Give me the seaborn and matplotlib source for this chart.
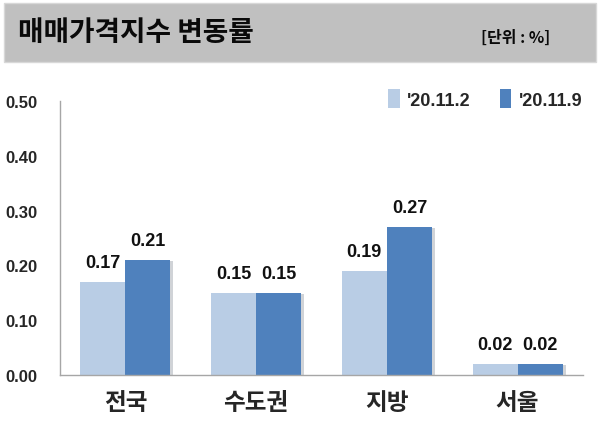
import matplotlib
matplotlib.use("Agg")
import matplotlib.pyplot as plt
import matplotlib.patheffects as pe
from matplotlib.patches import Rectangle
import seaborn as sns
import pandas as pd

categories = ["전국", "수도권", "지방", "서울"]
series_names = ["'20.11.2", "'20.11.9"]
values_1102 = [0.17, 0.15, 0.19, 0.02]
values_1109 = [0.21, 0.15, 0.27, 0.02]
y_ticks = [0.0, 0.1, 0.2, 0.3, 0.4, 0.5]
title = "매매가격지수 변동률"
unit = "[단위 : %]"

colors = ["#b9cde5", "#4f81bd"]

df = pd.DataFrame({
    "region": categories * 2,
    "series": [series_names[0]] * 4 + [series_names[1]] * 4,
    "value": values_1102 + values_1109,
})

sns.set_style("white")
plt.rcParams["font.family"] = ["Noto Sans CJK KR", "DejaVu Sans"]

fig = plt.figure(figsize=(6.01, 4.35), dpi=100)
ax = fig.add_axes([60 / 601, 1 - 376 / 435, 523 / 601, 274 / 435])

sns.barplot(data=df, x="region", y="value", hue="series", palette=colors,
            width=0.69, gap=0, ax=ax, saturation=1, legend=True)

for p in ax.patches:
    p.set_edgecolor("none")
    p.set_path_effects([pe.SimplePatchShadow(offset=(2, -1), alpha=0.2), pe.Normal()])

num_font = dict(family=["Liberation Sans", "DejaVu Sans"], weight="bold")

for cont in ax.containers:
    for rect in cont:
        h = rect.get_height()
        ax.annotate(f"{h:.2f}", (rect.get_x() + rect.get_width() / 2, h),
                    xytext=(0, 8), textcoords="offset points",
                    ha="center", va="bottom", fontsize=13, color="#111111", **num_font)

ax.set_ylim(0, 0.5)
ax.set_xlim(-0.5, 3.5)
ax.set_yticks(y_ticks)
ax.set_yticklabels([f"{v:.2f}" for v in y_ticks], fontsize=12, **num_font)
ax.set_xticks(range(len(categories)))
ax.set_xticklabels(categories, fontsize=17, fontweight="heavy", family=["Noto Sans CJK KR"])
ax.set_xticks([-0.5, 0.5, 1.5, 2.5, 3.5], minor=True)
ax.tick_params(axis="x", which="major", length=0, pad=11)
ax.tick_params(axis="x", which="minor", length=8, color="#a6a6a6", direction="out", width=1)
ax.tick_params(axis="y", length=6, color="#a6a6a6", direction="out", pad=10.5, width=1)
ax.set_xlabel("")
ax.set_ylabel("")
for s in ["top", "right"]:
    ax.spines[s].set_visible(False)
for s in ["left", "bottom"]:
    ax.spines[s].set_color("#a6a6a6")
    ax.spines[s].set_linewidth(1)

leg = ax.legend(loc="upper left", bbox_to_anchor=(381 / 601, 1 - 83 / 435),
                bbox_transform=fig.transFigure, ncol=2, frameon=False,
                handlelength=0.65, handleheight=1.2, handletextpad=0.4,
                columnspacing=1.6, borderaxespad=0,
                prop=dict(family=["Liberation Sans", "DejaVu Sans"], weight="bold", size=13))
for h in leg.legend_handles:
    h.set_path_effects([])

# header band
fig.patches.append(Rectangle((4 / 601, 1 - 63 / 435), 592 / 601, 59 / 435,
                             transform=fig.transFigure, facecolor="#c0c0c0",
                             edgecolor="#d8d8d8", linewidth=1, zorder=0))
fig.text(18 / 601, 1 - 33 / 435, title, fontsize=20, fontweight="heavy",
         family=["Noto Sans CJK KR"], va="center", ha="left", color="#0a0a0a")
fig.text(481 / 601, 1 - 38 / 435, unit, fontsize=11.5, fontweight="bold",
         family=["Noto Sans CJK KR"], va="center", ha="left", color="#0a0a0a")

fig.savefig("out.png", dpi=100)
